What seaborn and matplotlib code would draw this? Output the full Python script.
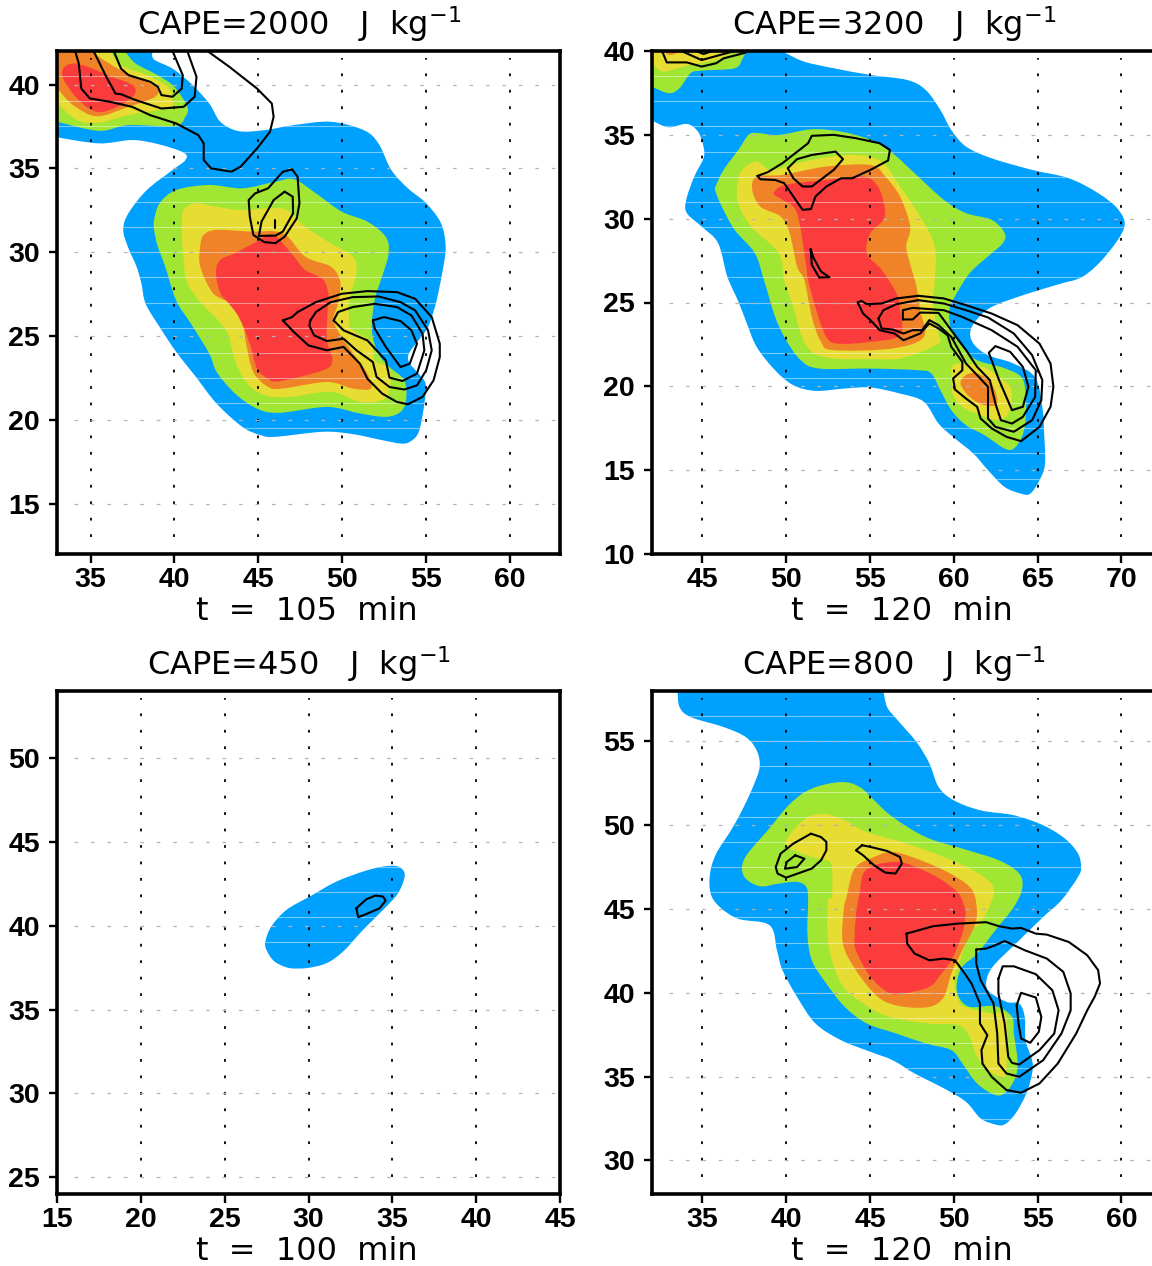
import numpy as np
import matplotlib
matplotlib.use("Agg")
import matplotlib.pyplot as plt
from matplotlib.path import Path
from matplotlib.patches import PathPatch
import seaborn as sns

# Colours of the shaded levels
BLUE = "#00A0FF"
GREEN = "#A0E632"
YELLOW = "#E6DC32"
ORANGE = "#F08228"
RED = "#FA3C3C"

# ---- panel 1, CAPE=2000, outlines (x, y)
P1_BLUE = [(33, 36.85), (35.5, 36.49), (37.48, 36.69), (39.01, 36.45), (40.55, 35.94), (40.66, 35.5), (39.89, 34.9),
           (38.36, 33.71), (37.26, 32.32), (36.95, 31.33), (37.26, 30.24), (37.74, 29.15), (38.03, 28.15), (38.29, 26.92),
           (39.12, 25.54), (40.11, 24.05), (41.21, 22.66), (42.52, 20.97), (44.06, 19.58), (45.15, 19.09), (46.03, 18.99),
           (48.88, 19.29), (50.64, 19.15), (52.39, 18.79), (53.49, 18.59), (54.04, 18.69), (54.58, 19.29), (54.91, 20.97),
           (54.98, 22.16), (54.47, 22.86), (53.99, 23.45), (54.04, 24.05), (55.02, 25.34), (55.35, 26.13), (55.64, 27.12),
           (56.01, 28.95), (56.18, 30.34), (55.9, 31.73), (55.02, 32.92), (53.93, 33.81), (52.94, 34.9), (52.17, 36.49),
           (51.29, 37.28), (49.32, 37.78), (47.13, 37.58), (45.37, 37.28), (43.84, 37.22), (42.74, 37.78), (42.08, 38.87),
           (40.99, 40.06), (39.89, 40.95), (38.79, 41.49), (38.68, 42)]
P1_GREEN_TOP = [(33, 37.78), (35.5, 37.24), (37.26, 37.58), (40, 37.52), (40.66, 38.08), (40.77, 38.67), (40, 39.86),
                (39, 40.56), (37.7, 41.25), (37.04, 42)]
P1_YELLOW_TOP = [(33, 38.87), (34.19, 37.88), (35.5, 37.72), (37.26, 38.17), (39.67, 38.63), (39.89, 39.07), (39.67, 39.82),
                 (38.36, 40.56), (36.82, 41.15), (36.16, 42)]
P1_ORANGE_TOP = [(33, 39.78), (33.97, 38.77), (35.39, 38.11), (37.26, 38.67), (38.79, 39.23), (39.01, 39.7), (38.36, 40.16),
                 (36.82, 40.85), (35.5, 41.65), (35.18, 42)]
P1_RED_TOP = [(33.36, 40.95), (33.97, 41.25), (34.85, 41.05), (36.16, 40.5), (37.52, 39.96), (37.59, 39.37), (36.6, 38.67),
              (35.39, 38.37), (34.3, 39.07), (33.42, 40.26)]
P1_GREEN = [(38.79, 31.92), (39.12, 32.92), (40.11, 33.71), (42.08, 34.01), (44.06, 33.81), (46, 34.2), (47.13, 34.35),
            (48.44, 33.51), (49.98, 32.42), (51.5, 31.83), (52.6, 30.93), (52.78, 29.94), (52.39, 28.55), (51.95, 27.16),
            (51.78, 25.34), (52.17, 23.95), (52.83, 23.15), (53.71, 22.36), (53.82, 21.17), (53.49, 20.48), (52.61, 20.18),
            (51.08, 20.38), (49.1, 20.77), (46.25, 20.42), (44.93, 20.67), (43.62, 21.57), (42.52, 22.86), (42.08, 23.95),
            (40.99, 25.73), (40.11, 27.12), (39.45, 29.15), (39.01, 30.34), (38.79, 31.33)]
P1_YELLOW = [(40.44, 31.92), (40.55, 32.52), (41.21, 32.92), (42.3, 32.76), (43.84, 32.52), (45.81, 32.62), (46.69, 32.52),
             (47.79, 31.53), (49.32, 30.54), (50.64, 29.74), (50.86, 28.75), (50.42, 27.16), (50.42, 26.13), (50.53, 25.44),
             (51.73, 24.64), (51.95, 23.55), (52.83, 23.06), (52.83, 21.77), (52.39, 21.17), (51.08, 21.07), (49.32, 21.67),
             (46.91, 21.37), (45.37, 21.47), (44.27, 22.26), (43.62, 23.55), (43.18, 25.14), (42.52, 26.03), (41.64, 26.92),
             (40.77, 28.15), (40.55, 29.54), (40.44, 31.13)]
P1_ORANGE = [(41.54, 30.34), (41.75, 31.03), (42.52, 31.33), (44.5, 31.23), (46.47, 31.13), (47.79, 29.74), (49.32, 29.15),
             (49.87, 28.35), (49.87, 27.56), (49.76, 26.92), (49.5, 25.93), (49.98, 24.94), (50.75, 23.85), (51.51, 22.76),
             (51.73, 21.87), (50.64, 21.87), (49.1, 22.26), (46.47, 21.87), (45.59, 21.97), (44.71, 22.86), (44.28, 24.54),
             (44.06, 25.93), (43.4, 26.92), (42.3, 27.56), (41.54, 29.15)]
P1_RED = [(42.48, 28.75), (42.74, 29.54), (43.62, 29.94), (44.93, 30.63), (45.92, 31.03), (47.13, 29.74), (47.79, 28.95),
          (48.88, 28.35), (49.21, 27.36), (49.14, 26.53), (49.1, 24.74), (49.42, 23.55), (48.88, 22.96), (46.25, 22.3),
          (45.59, 22.46), (44.93, 23.06), (44.5, 24.54), (43.84, 26.13), (43.18, 27.02), (42.74, 27.56)]
P1_LINES = [
    [(41.97, 42), (43.29, 41.05), (44.93, 39.76), (45.81, 38.87), (45.92, 38.08), (45.7, 37.18), (44.93, 36.19), (43.95, 35.1),
     (43.4, 34.8), (42.19, 35.0), (41.75, 35.5), (41.75, 36.49), (41.43, 36.98), (40.11, 37.68), (38.57, 38.17), (37.48, 38.67),
     (36.16, 38.97), (34.96, 39.17), (34.45, 39.76), (34.3, 41.25), (34.08, 42)],
    [(40.77, 42), (41.32, 40.46), (41.21, 39.27), (40.55, 38.67), (39.23, 38.57), (37.7, 39.07), (36.82, 39.42), (36.49, 39.46),
     (35.94, 40.46), (35.18, 42)],
    [(39.89, 42), (40.5, 40.56), (40.44, 39.76), (39.89, 39.27), (39.23, 39.37), (39.01, 39.86), (38.57, 40.16), (37.26, 40.56),
     (36.82, 40.95), (36.38, 42)],
    [(46.47, 34.8), (47.02, 34.94), (47.35, 34.5), (47.46, 32.92), (47.3, 32.02), (46.58, 30.93), (46.03, 30.54), (45.37, 30.6),
     (44.71, 31.03), (44.5, 32.12), (44.43, 33.11), (44.82, 33.51), (45.59, 33.81), (46.47, 34.8)],
    [(46.58, 33.61), (47.06, 33.31), (47.08, 32.32), (46.47, 31.23), (46.03, 30.99), (45.04, 30.97), (45.2, 31.83), (45.92, 33.11),
     (46.58, 33.61)],
    [(46.03, 31.92), (46.03, 31.43)],
    [(46.47, 25.93), (47.02, 26.13), (47.35, 26.43), (48.44, 27.02), (49.98, 27.52), (51.51, 27.68), (53.27, 27.62), (54.36, 27.22),
     (55.35, 26.13), (55.83, 24.54), (55.83, 23.75), (55.46, 22.36), (54.8, 21.37), (53.93, 20.93), (53.27, 21.07), (52.39, 21.57),
     (51.51, 22.46), (51.07, 23.35), (50.09, 24.35), (49.1, 24.15), (48.0, 24.44), (47.13, 25.24), (46.47, 25.93)],
    [(48.11, 25.93), (48.44, 26.43), (49.32, 27.02), (50.64, 27.32), (52.17, 27.36), (53.49, 27.02), (54.36, 26.53), (55.13, 25.34),
     (55.35, 24.15), (55.02, 22.96), (54.47, 22.06), (53.71, 21.81), (52.83, 21.96), (52.06, 22.56), (51.84, 23.45), (50.86, 24.15),
     (50.09, 24.84), (49.1, 24.7), (48.33, 25.04), (48.05, 25.63), (48.11, 25.93)],
    [(49.5, 25.93), (49.76, 26.43), (50.64, 26.73), (51.95, 26.92), (53.27, 26.73), (54.14, 26.23), (54.8, 25.14), (54.91, 24.15),
     (54.47, 22.76), (53.6, 22.32), (52.83, 22.52), (52.61, 23.55), (51.51, 24.74), (50.09, 25.34), (49.5, 25.93)],
    [(51.84, 25.93), (52.5, 26.13), (53.49, 25.89), (54.14, 25.34), (54.47, 24.54), (54.04, 23.35), (53.49, 23.15), (52.61, 24.35),
     (51.95, 25.44), (51.84, 25.93)],
]

# ---- panel 2, CAPE=3200
P2_BLUE = [(42, 35.85), (42.98, 35.45), (44.08, 35.65), (44.74, 35.19), (45.07, 34.3), (45.07, 33.6), (44.52, 32.51), (44.04, 31.12),
           (44.08, 30.33), (44.96, 29.53), (45.94, 28.54), (46.49, 26.55), (47.15, 25.06), (47.58, 23.95), (48.24, 22.36), (49.34, 20.96),
           (50.43, 20.07), (51.75, 19.73), (53.5, 19.87), (55.03, 19.93), (56.79, 19.57), (58.21, 19.08), (59.09, 17.78), (60.07, 16.89),
           (61.17, 15.99), (62.04, 15.0), (63.03, 14.0), (64.01, 13.6), (64.56, 13.6), (65.11, 14.4), (65.44, 15.4), (65.37, 17.58),
           (65.33, 18.38), (64.89, 20.47), (63.56, 21.36), (62.04, 21.86), (61.17, 22.55), (61.0, 23.35), (61.6, 24.24), (62.48, 24.84),
           (64.45, 25.54), (66.3, 26.1), (67.7, 26.55), (69.0, 27.72), (70.15, 29.43), (69.82, 30.53), (68.61, 31.52), (66.86, 32.41),
           (64.67, 32.91), (62.26, 33.6), (60.73, 34.3), (59.85, 35.29), (59.2, 36.48), (58.32, 37.68), (57.22, 38.27), (55.03, 38.57),
           (52.84, 38.97), (51.09, 39.36), (50.0, 39.86), (49.67, 40)]
P2_GREEN_TOP = [(42, 37.87), (43.0, 37.48), (43.64, 37.78), (44.3, 38.67), (44.96, 38.83), (46.93, 38.97), (47.41, 39.56), (47.63, 40)]
P2_YELLOW_TOP = [(42, 39.27), (42.66, 38.77), (43.86, 39.07), (44.96, 39.27), (46.05, 39.56), (46.7, 39.86), (47.15, 40)]
P2_ORANGE_TOP = [(42.66, 40), (43.09, 39.76), (43.75, 40)]
P2_GREEN = [(45.79, 31.92), (46.27, 32.91), (47.15, 34.1), (47.8, 35.03), (48.46, 35.09), (49.56, 34.99), (51.53, 35.33), (53.28, 35.19),
            (55.03, 34.7), (56.35, 33.9), (57.66, 32.71), (59.41, 31.12), (60.73, 30.33), (62.26, 29.93), (63.03, 29.14), (62.92, 28.54),
            (62.04, 27.75), (60.95, 26.75), (60.07, 25.36), (59.74, 24.54), (59.85, 23.35), (60.51, 22.36), (61.39, 21.56), (62.92, 21.12),
            (64.01, 20.57), (64.29, 19.57), (64.28, 17.98), (64.06, 16.99), (63.58, 16.29), (63.03, 16.29), (61.82, 17.09), (60.73, 17.68),
            (59.85, 18.58), (59.2, 19.77), (58.65, 20.77), (57.88, 20.96), (55.03, 21.06), (51.97, 21.06), (50.87, 21.56), (50.0, 22.75),
            (49.34, 24.15), (48.68, 26.33), (48.13, 27.94), (46.93, 29.33), (46.16, 30.72), (45.79, 31.62)]
P2_YELLOW = [(47.08, 31.92), (47.37, 32.91), (48.24, 33.41), (49.11, 32.91), (50.65, 33.31), (52.4, 33.66), (54.16, 33.8), (55.69, 33.4),
             (56.79, 31.92), (58.0, 30.13), (58.87, 28.34), (58.87, 26.33), (58.76, 24.94), (59.08, 23.15), (59.19, 22.65), (58.54, 22.26),
             (56.79, 21.66), (55.03, 21.62), (52.84, 21.66), (51.53, 22.06), (50.87, 23.15), (50.43, 24.74), (49.88, 26.33), (49.56, 27.94),
             (47.91, 29.53), (47.14, 30.92)]
P2_ORANGE = [(47.98, 31.72), (48.24, 32.51), (49.78, 32.61), (52.4, 33.11), (55.03, 33.2), (55.91, 32.51), (56.79, 31.32), (57.4, 29.53),
             (57.16, 28.34), (57.44, 27.15), (57.77, 25.96), (57.99, 24.54), (58.21, 22.95), (56.35, 22.26), (52.84, 22.16), (52.08, 22.65),
             (51.53, 24.15), (51.09, 26.33), (50.65, 27.15), (50.21, 29.14), (49.67, 30.13), (48.46, 30.72)]
P2_RED = [(49.27, 31.52), (49.99, 32.02), (52.4, 32.31), (54.6, 32.51), (55.47, 31.92), (55.87, 30.72), (55.8, 29.93), (55.03, 29.14),
          (54.81, 27.94), (55.69, 26.95), (56.57, 25.56), (56.79, 24.54), (56.79, 23.05), (55.03, 22.65), (53.06, 22.55), (52.4, 22.95),
          (51.86, 24.34), (51.31, 26.33), (51.2, 27.15), (50.65, 30.33), (49.78, 31.12)]
P2_YELLOW_LOW = [(59.85, 20.57), (59.96, 21.26), (60.73, 21.36), (61.82, 21.12), (62.7, 20.57), (63.36, 19.97), (63.47, 19.17),
                 (63.25, 18.38), (62.7, 17.98), (61.6, 18.28), (60.51, 18.78), (59.96, 19.47)]
P2_ORANGE_LOW = [(60.4, 20.17), (60.73, 20.67), (61.39, 20.77), (62.26, 20.17), (62.59, 18.98), (61.82, 18.88), (60.95, 19.37)]
P2_LINES = [
    [(42.6, 40), (42.88, 39.32), (44.08, 39.32), (44.96, 39.07), (45.83, 39.27), (46.27, 39.56), (47.58, 39.9)],
    [(43.75, 40), (44.96, 39.46), (46.05, 39.76), (46.93, 40)],
    [(44.63, 40), (45.07, 39.82), (45.61, 40)],
    [(48.29, 32.55), (48.9, 32.77), (49.78, 33.31), (51.31, 34.5), (51.53, 34.94), (52.84, 35.0), (54.16, 34.8), (55.58, 34.5), (56.19, 34.1),
     (56.08, 33.47), (55.03, 32.91), (53.94, 32.41), (53.28, 32.41), (52.4, 31.92), (51.75, 31.32), (51.48, 30.57), (50.98, 30.53),
     (50.43, 31.32), (49.88, 32.12), (49.34, 32.31), (48.46, 32.35), (48.29, 32.55)],
    [(50.1, 33.01), (50.65, 33.55), (51.53, 33.8), (52.95, 34.0), (53.39, 33.55), (52.84, 32.91), (51.53, 31.92), (50.98, 31.92),
     (50.43, 32.41), (50.1, 33.01)],
    [(51.46, 28.18), (51.64, 27.65), (52.08, 26.85), (52.58, 26.51), (51.97, 26.49), (51.53, 27.25), (51.46, 28.18)],
    [(54.27, 25), (54.49, 25.1), (54.81, 24.9), (55.69, 24.94), (56.57, 25.24), (57.88, 25.4), (59.41, 25.24), (60.73, 24.84), (62.26, 24.34),
     (63.8, 23.65), (65.11, 22.55), (65.77, 21.36), (65.94, 19.97), (65.77, 18.78), (65.11, 17.58), (64.01, 16.73), (63.14, 16.99),
     (62.26, 17.49), (61.6, 18.08), (61.39, 18.78), (60.73, 19.27), (60.07, 19.81), (59.96, 20.47), (60.51, 20.96), (60.51, 21.46),
     (59.85, 22.36), (59.63, 23.05), (59.09, 23.45), (58.54, 23.75), (57.99, 23.15), (57.0, 22.75), (56.46, 23.15), (55.58, 23.35),
     (55.03, 23.95), (54.59, 24.34), (54.27, 25)],
    [(55.51, 24.05), (55.8, 24.54), (56.57, 24.9), (57.88, 25.14), (59.41, 24.94), (60.73, 24.54), (62.04, 24.11), (63.58, 23.15),
     (64.67, 21.86), (65.28, 20.37), (65.22, 19.17), (64.67, 17.98), (63.58, 17.29), (62.48, 17.58), (62.04, 18.08), (62.04, 19.97),
     (61.39, 20.67), (60.73, 21.36), (59.85, 22.95), (59.09, 23.65), (58.54, 23.95), (58.1, 23.35), (57.55, 23.35), (57.0, 23.15),
     (56.35, 23.39), (55.69, 23.45), (55.51, 24.05)],
    [(56.96, 23.99), (56.96, 24.54), (57.55, 24.68), (59.41, 24.54), (60.5, 24.14), (62.26, 23.35), (63.8, 22.36), (64.89, 20.96),
     (64.85, 19.37), (64.12, 18.18), (63.47, 17.78), (62.81, 17.98), (62.48, 18.98), (62.15, 20.37), (61.39, 21.16), (60.73, 22.16),
     (60.07, 23.05), (59.09, 24.38), (57.99, 24.4), (57.55, 23.99), (56.96, 23.99)],
    [(62.09, 22.0), (62.48, 22.4), (63.36, 22.06), (64.12, 21.16), (64.45, 19.97), (64.12, 18.78), (63.47, 18.58), (62.7, 20.37), (62.09, 22.0)],
]

# ---- panel 3, CAPE=450
P3_BLUE = [(27.43, 39.06), (27.78, 39.95), (28.68, 40.94), (30.07, 41.74), (31.66, 42.63), (33.25, 43.23), (34.44, 43.53), (35.34, 43.53),
           (35.74, 43.03), (35.34, 41.94), (34.44, 40.94), (33.25, 39.75), (32.06, 38.46), (31.06, 37.76), (29.87, 37.47), (28.88, 37.47),
           (27.98, 37.86), (27.49, 38.56)]
P3_LINES = [[(32.85, 41.04), (33.45, 41.58), (33.99, 41.8), (34.44, 41.74), (34.6, 41.5), (34.24, 41.04), (33.45, 40.7), (32.97, 40.51),
             (32.85, 41.04)]]

# ---- panel 4, CAPE=800
P4_BLUE = [(33.53, 58), (33.64, 57.05), (34.3, 56.45), (36.27, 55.85), (37.58, 55.26), (38.24, 54.46), (38.42, 53.47), (38.02, 52.28),
           (37.37, 50.88), (36.71, 49.69), (35.83, 48.3), (35.46, 47.11), (35.5, 45.91), (36.05, 45.11), (37.15, 44.41), (39.01, 44.03),
           (39.45, 42.54), (39.78, 41.35), (40.65, 39.76), (41.75, 38.17), (43.28, 37.17), (45.03, 36.48), (46.35, 35.98), (47.66, 35.19),
           (49.41, 34.3), (50.72, 33.5), (51.6, 32.51), (52.47, 32.15), (53.03, 32.15), (53.68, 32.8), (54.33, 34.0), (54.67, 35.19),
           (54.67, 35.98), (54.28, 37.17), (54.23, 38.57), (53.9, 39.36), (53.14, 39.46), (52.04, 40.15), (52.0, 40.95), (52.48, 41.74),
           (53.8, 43.03), (55.33, 44.52), (56.42, 45.52), (57.41, 46.91), (57.59, 47.5), (57.41, 48.3), (56.64, 49.19), (55.33, 49.99),
           (53.58, 50.59), (51.6, 50.88), (50.0, 51.48), (49.09, 52.28), (48.55, 53.67), (47.77, 54.96), (46.57, 56.35), (46.02, 57.05),
           (45.8, 58)]
P4_GREEN = [(37.37, 47.5), (37.7, 48.3), (38.9, 49.69), (40.24, 51.28), (41.53, 52.18), (43.28, 52.57), (44.38, 52.28), (45.25, 51.48),
            (46.35, 50.49), (48.32, 49.29), (50.51, 48.6), (52.7, 47.9), (53.9, 47.11), (54.08, 46.21), (53.58, 45.12), (52.48, 43.73),
            (51.39, 42.33), (50.5, 41.54), (50.18, 40.55), (50.29, 39.76), (50.95, 39.16), (52.48, 39.2), (53.47, 38.57), (53.58, 37.57),
            (53.8, 35.98), (53.69, 34.99), (53.14, 34.1), (52.48, 33.9), (51.39, 34.59), (50.51, 35.78), (49.85, 36.58), (48.32, 36.98),
            (46.57, 37.57), (44.81, 38.17), (43.5, 39.16), (42.4, 40.55), (41.53, 41.94), (41.27, 43.53), (41.31, 45.52), (41.2, 46.31),
            (40.65, 46.61), (39.56, 46.51), (38.46, 46.35), (37.59, 46.81)]
P4_YELLOW = [(39.95, 48.9), (40.43, 49.69), (41.31, 50.49), (42.4, 50.65), (43.5, 50.29), (44.81, 49.59), (47.22, 48.9), (49.41, 48.1),
             (51.15, 47.31), (52.24, 46.51), (52.35, 45.72), (51.58, 44.12), (51.03, 43.73), (50.38, 41.94), (50.04, 40.75), (50.29, 39.56),
             (50.64, 39.16), (52.26, 38.76), (53.1, 38.66), (53.15, 35.98), (53.03, 34.99), (52.04, 35.38), (51.39, 36.18), (50.95, 37.37),
             (50.29, 38.07), (48.54, 38.17), (46.13, 38.57), (44.6, 39.36), (43.28, 40.55), (42.51, 42.93), (42.51, 45.52), (42.73, 45.72),
             (42.73, 47.5), (42.4, 47.9), (41.53, 48.1), (40.21, 48.6)]
P4_ORANGE = [(46.13, 48.4), (47.22, 48.2), (49.41, 47.31), (50.95, 46.31), (51.34, 45.32), (51.28, 44.12), (50.51, 42.54), (49.85, 41.15),
             (49.41, 39.76), (48.54, 39.16), (46.79, 39.2), (45.47, 39.76), (44.16, 41.35), (43.39, 42.93), (43.43, 44.92), (43.61, 45.72),
             (43.94, 47.11), (44.38, 47.7), (45.25, 48.1)]
P4_RED = [(44.38, 45.91), (44.6, 47.11), (45.25, 47.6), (46.35, 47.8), (47.22, 47.7), (48.98, 46.91), (50.29, 45.91), (50.68, 44.92),
          (50.68, 44.52), (50.51, 43.53), (49.85, 41.94), (49.19, 41.05), (48.54, 40.35), (47.0, 39.96), (46.13, 40.0), (45.03, 40.95),
          (44.16, 42.54), (44.09, 43.53), (44.2, 44.92)]
P4_LINES = [
    [(41.48, 49.49), (42.08, 49.29), (42.4, 49.0), (42.4, 48.5), (42.08, 47.9), (41.53, 47.41), (40.0, 46.87), (39.49, 47.11), (39.38, 47.5),
     (39.67, 48.3), (40.43, 48.9), (41.48, 49.49)],
    [(40.54, 48.2), (41.09, 48.0), (40.65, 47.5), (39.93, 47.4), (40.04, 47.8), (40.54, 48.2)],
    [(44.53, 48.8), (45.03, 48.7), (46.02, 48.46), (46.79, 48.1), (46.9, 47.7), (46.52, 47.11), (45.91, 47.17), (45.25, 47.6), (44.59, 48.2),
     (44.16, 48.5), (44.53, 48.8)],
    [(47.18, 43.53), (48.76, 43.97), (50.29, 44.13), (51.93, 44.21), (52.7, 43.97), (53.47, 43.83), (54.01, 43.87), (54.89, 43.53), (55.55, 43.47),
     (56.86, 43.03), (57.96, 42.24), (58.61, 41.35), (58.72, 40.55), (58.4, 39.76), (57.96, 38.96), (57.3, 37.57), (56.2, 35.78), (55.11, 34.59),
     (54.01, 34.04), (53.14, 34.2), (52.26, 34.99), (51.71, 35.78), (51.65, 36.58), (52.0, 37.47), (51.56, 38.17), (51.56, 39.36), (51.06, 40.55),
     (50.51, 41.35), (50.07, 41.94), (49.41, 42.04), (48.54, 41.94), (47.66, 42.34), (47.22, 42.93), (47.18, 43.53)],
    [(51.34, 42.58), (51.93, 42.64), (52.48, 42.84), (53.03, 43.09), (54.23, 42.54), (55.55, 42.04), (56.53, 41.25), (56.97, 39.96), (56.97, 38.96),
     (56.42, 37.57), (55.33, 35.98), (53.9, 34.99), (53.14, 35.19), (52.66, 35.78), (52.59, 37.57), (52.37, 39.36), (51.6, 40.75), (51.34, 41.74),
     (51.34, 42.58)],
    [(52.66, 40.85), (52.92, 41.58), (53.58, 41.58), (54.89, 41.11), (55.88, 40.15), (56.25, 38.96), (55.99, 37.57), (55.11, 36.58), (53.9, 35.72),
     (53.47, 35.82), (53.25, 36.18), (53.03, 38.17), (52.66, 39.96), (52.66, 40.85)],
    [(53.75, 39.26), (54.01, 40.0), (54.89, 39.72), (55.22, 38.56), (55.07, 37.67), (54.56, 37.02), (54.01, 37.27), (53.86, 38.17), (53.75, 39.26)],
]

# Titles, labels and ticks
P1_TICKS_X = [35, 40, 45, 50, 55, 60]
P1_TICKS_Y = [15, 20, 25, 30, 35, 40]
P2_TICKS_X = [45, 50, 55, 60, 65, 70]
P2_TICKS_Y = [10, 15, 20, 25, 30, 35, 40]
P3_TICKS_X = [15, 20, 25, 30, 35, 40, 45]
P3_TICKS_Y = [25, 30, 35, 40, 45, 50]
P4_TICKS_X = [35, 40, 45, 50, 55, 60]
P4_TICKS_Y = [30, 35, 40, 45, 50, 55]

TOP_LEFT_1 = [(33, 42)]
TOP_LEFT_2 = [(42, 40)]

panels = [
    dict(box=(57, 51), xlim=(33, 63), ylim=(12, 42), title="CAPE=2000", label="t  =  105  min",
         xt=P1_TICKS_X, yt=P1_TICKS_Y, lines=P1_LINES,
         fills=[(BLUE, P1_BLUE, TOP_LEFT_1), (GREEN, P1_GREEN_TOP, TOP_LEFT_1), (YELLOW, P1_YELLOW_TOP, TOP_LEFT_1),
                (ORANGE, P1_ORANGE_TOP, TOP_LEFT_1), (RED, P1_RED_TOP, None), (GREEN, P1_GREEN, None),
                (YELLOW, P1_YELLOW, None), (ORANGE, P1_ORANGE, None), (RED, P1_RED, None)]),
    dict(box=(652, 51), xlim=(42, 72), ylim=(10, 40), title="CAPE=3200", label="t  =  120  min",
         xt=P2_TICKS_X, yt=P2_TICKS_Y, lines=P2_LINES,
         fills=[(BLUE, P2_BLUE, TOP_LEFT_2), (GREEN, P2_GREEN_TOP, TOP_LEFT_2), (YELLOW, P2_YELLOW_TOP, TOP_LEFT_2),
                (ORANGE, P2_ORANGE_TOP, []), (GREEN, P2_GREEN, None), (YELLOW, P2_YELLOW, None), (ORANGE, P2_ORANGE, None),
                (RED, P2_RED, None), (YELLOW, P2_YELLOW_LOW, None), (ORANGE, P2_ORANGE_LOW, None)]),
    dict(box=(57, 691), xlim=(15, 45), ylim=(24, 54), title="CAPE=450", label="t  =  100  min",
         xt=P3_TICKS_X, yt=P3_TICKS_Y, lines=P3_LINES, fills=[(BLUE, P3_BLUE, None)]),
    dict(box=(652, 691), xlim=(32, 62), ylim=(28, 58), title="CAPE=800", label="t  =  120  min",
         xt=P4_TICKS_X, yt=P4_TICKS_Y, lines=P4_LINES,
         fills=[(BLUE, P4_BLUE, []), (GREEN, P4_GREEN, None), (YELLOW, P4_YELLOW, None), (ORANGE, P4_ORANGE, None),
                (RED, P4_RED, None)]),
]

WIDTH, HEIGHT = 1152, 1266
BOX = 503


def outline_path(points, corners):
    # smooth curve through the read points; corners=None means a closed blob
    pts = np.array(points, dtype=float)
    n = len(pts)
    verts = [pts[0]]
    codes = [Path.MOVETO]
    last = n if corners is None else n - 1
    for i in range(last):
        if corners is None:
            p0, p1, p2, p3 = pts[(i - 1) % n], pts[i], pts[(i + 1) % n], pts[(i + 2) % n]
        else:
            p0, p1, p2, p3 = pts[max(i - 1, 0)], pts[i], pts[i + 1], pts[min(i + 2, n - 1)]
        verts += [p1 + (p2 - p0) / 6, p2 - (p3 - p1) / 6, p2]
        codes += [Path.CURVE4] * 3
    for c in (corners or []):
        verts.append(c)
        codes.append(Path.LINETO)
    verts.append(pts[0])
    codes.append(Path.CLOSEPOLY)
    return Path(verts, codes)


sns.set_style("white")
plt.rcParams["lines.scale_dashes"] = False
plt.rcParams["font.family"] = "DejaVu Sans"
plt.rcParams["mathtext.default"] = "regular"

fig = plt.figure(figsize=(WIDTH / 100, HEIGHT / 100), dpi=100)

for p in panels:
    left, top = p["box"]
    ax = fig.add_axes([left / WIDTH, 1 - (top + BOX) / HEIGHT, BOX / WIDTH, BOX / HEIGHT])

    first = None
    for colour, pts, corners in p["fills"]:
        patch = PathPatch(outline_path(pts, corners), facecolor=colour, edgecolor="none", lw=0, zorder=1)
        ax.add_patch(patch)
        if first is None:
            first = patch

    # the faint pale streaks across the shading
    for y in np.arange(p["ylim"][1] - 1.5, p["ylim"][0], -1.5):
        streak = ax.axhline(y, color="white", alpha=0.45, lw=0.8, zorder=2)
        streak.set_clip_path(first)

    # dotted grid
    for x in p["xt"]:
        if p["xlim"][0] < x < p["xlim"][1]:
            ax.plot([x, x], [p["ylim"][0] + 1.04, p["ylim"][1] - 0.4], color="black", lw=1.3,
                    ls=(0, (2.0, 9.85)), zorder=3)
    for y in p["yt"]:
        if p["ylim"][0] < y < p["ylim"][1]:
            ax.plot([p["xlim"][0] + 1, p["xlim"][1] - 0.3], [y, y], color="#b4b4b4", lw=0.9,
                    ls=(0, (2.6, 9.25)), zorder=3)

    for line in p["lines"]:
        xy = np.array(line)
        sns.lineplot(x=xy[:, 0], y=xy[:, 1], sort=False, estimator=None, color="black", lw=1.5,
                     ax=ax, legend=False, zorder=4)

    ax.set_xlim(p["xlim"])
    ax.set_ylim(p["ylim"])
    ax.set_xticks(p["xt"])
    ax.set_yticks(p["yt"])
    ax.tick_params(axis="x", length=6.5, width=1.7, pad=3, bottom=True, color="black")
    ax.tick_params(axis="y", length=5.8, width=1.7, pad=6.5, left=True, color="black")
    for lab in ax.get_xticklabels() + ax.get_yticklabels():
        lab.set_fontfamily("Liberation Sans")
        lab.set_fontweight("bold")
        lab.set_fontsize(20.5)
        lab.set_color("black")
    for s in ax.spines.values():
        s.set_linewidth(2.6)
        s.set_color("black")
        s.set_visible(True)

    ax.set_title(p["title"] + "   J  kg$^{-1}$", fontsize=23, color="black", x=0.481, y=1 + 16 / BOX, pad=0)
    ax.set_xlabel(p["label"], fontsize=23, color="black", va="baseline")
    ax.xaxis.set_label_coords(0.497, -66 / BOX)

fig.savefig("out.png", dpi=100)
